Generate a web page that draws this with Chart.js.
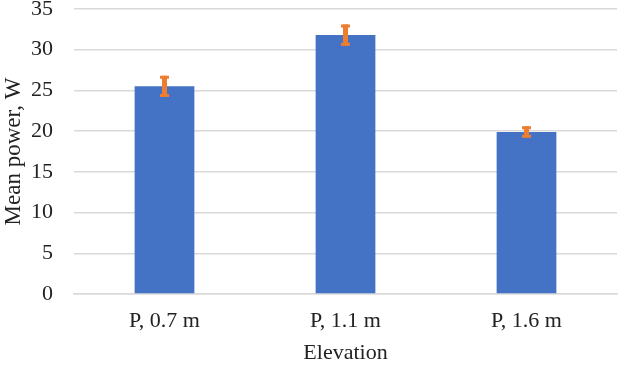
<!DOCTYPE html>
<html><head><meta charset="utf-8">
<script src="https://cdn.jsdelivr.net/npm/chart.js@4/dist/chart.umd.min.js"></script>
<style>html,body{margin:0;padding:0;background:#fff}#wrap{width:630px;height:369px}</style>
</head><body><div id="wrap"><canvas id="c" width="630" height="369"></canvas></div>
<script>
const categories = ["P, 0.7 m", "P, 1.1 m", "P, 1.6 m"];
const meanPower = [25.5, 31.8, 19.9];
const errors = [1.3, 1.3, 0.7];
const yTicks = [0, 5, 10, 15, 20, 25, 30, 35];

const errorBars = {
  id: 'errorBars',
  afterDatasetsDraw(chart) {
    const ctx = chart.ctx, meta = chart.getDatasetMeta(0), y = chart.scales.y;
    ctx.save();
    ctx.strokeStyle = '#ED7D31';
    meta.data.forEach((bar, i) => {
      const x = bar.x;
      const top = y.getPixelForValue(meanPower[i] + errors[i]);
      const bot = y.getPixelForValue(meanPower[i] - errors[i]);
      ctx.lineWidth = 5;
      ctx.beginPath();
      ctx.moveTo(x, top); ctx.lineTo(x, bot);
      ctx.stroke();
      ctx.lineWidth = 3;
      ctx.beginPath();
      ctx.moveTo(x - 4.5, top + 1.5); ctx.lineTo(x + 4.5, top + 1.5);
      ctx.moveTo(x - 4.5, bot - 1.5); ctx.lineTo(x + 4.5, bot - 1.5);
      ctx.stroke();
    });
    ctx.restore();
  }
};

new Chart(document.getElementById('c'), {
  type: 'bar',
  data: { labels: categories, datasets: [{ data: meanPower, backgroundColor: '#4472C4', barPercentage: 0.33, categoryPercentage: 1 }] },
  options: {
    responsive: false, animation: false,
    layout: { padding: { top: 0, right: 13, left: 0, bottom: 0 } },
    plugins: { legend: { display: false }, tooltip: { enabled: false } },
    scales: {
      x: {
        grid: { display: false, drawTicks: false },
        border: { color: '#d9d9d9', width: 1.5 },
        ticks: { color: '#222', font: { family: 'Liberation Serif', size: 22 }, padding: 14 },
        title: { display: true, text: 'Elevation', color: '#222', font: { family: 'Liberation Serif', size: 22 }, padding: { top: 0, bottom: 3 } },
        afterFit: (s) => { s.height = 75; s.paddingLeft = 0; s.paddingRight = 0; }
      },
      y: {
        min: 0, max: 35,
        afterBuildTicks: (s) => { s.ticks = yTicks.map(v => ({ value: v })); },
        grid: { color: '#d9d9d9', lineWidth: 1.5, drawTicks: false },
        border: { display: false },
        ticks: { color: '#222', font: { family: 'Liberation Serif', size: 22 }, padding: 21 },
        title: { display: true, text: 'Mean power, W', color: '#222', font: { family: 'Liberation Serif', size: 23 }, padding: { top: 0, bottom: 2 } },
        afterFit: (s) => { s.width = 74; s.paddingTop = 9; s.paddingBottom = 0; }
      }
    }
  },
  plugins: [errorBars]
});
</script></body></html>
